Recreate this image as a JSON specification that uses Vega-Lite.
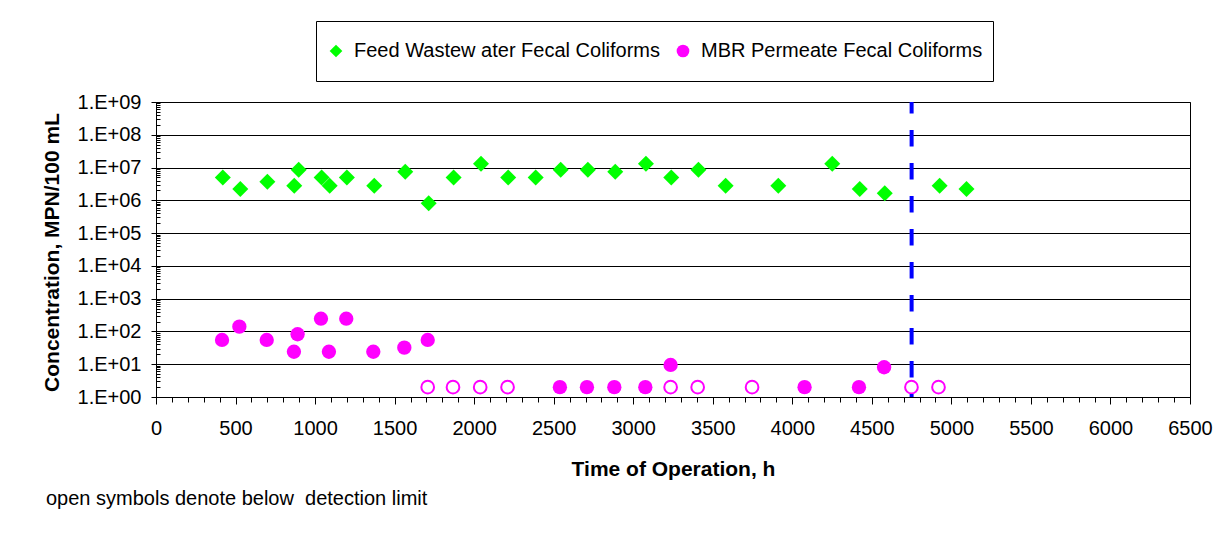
{
  "$schema": "https://vega.github.io/schema/vega-lite/v6.json",
  "width": 1034,
  "height": 295,
  "autosize": {"type": "none"},
  "padding": {"left": 156, "top": 102, "right": 35, "bottom": 149},
  "background": "white",
  "config": {
    "font": "Liberation Sans",
    "view": {"stroke": "#000000", "strokeWidth": 1},
    "axis": {"labelColor": "#000", "titleColor": "#000", "domainColor": "#000", "tickColor": "#000", "labelFontSize": 20, "titleFontSize": 21, "titleFontWeight": "bold"}
  },
  "title": {
    "text": "open symbols denote below\u00a0 detection limit",
    "orient": "bottom",
    "anchor": "start",
    "frame": "group",
    "dx": -110,
    "fontSize": 20,
    "fontWeight": "normal",
    "color": "#000",
    "offset": 10
  },
  "datasets": {
    "feed": [
      {"t": 420, "c": 5000000}, {"t": 530, "c": 2200000}, {"t": 700, "c": 3700000},
      {"t": 869, "c": 2800000}, {"t": 897, "c": 8500000}, {"t": 1041, "c": 5000000},
      {"t": 1092, "c": 2800000}, {"t": 1200, "c": 5000000}, {"t": 1372, "c": 2800000},
      {"t": 1567, "c": 7400000}, {"t": 1714, "c": 820000}, {"t": 1871, "c": 5000000},
      {"t": 2043, "c": 13000000}, {"t": 2214, "c": 5000000}, {"t": 2387, "c": 5000000},
      {"t": 2544, "c": 8500000}, {"t": 2715, "c": 8500000}, {"t": 2887, "c": 7400000},
      {"t": 3080, "c": 13000000}, {"t": 3239, "c": 5000000}, {"t": 3410, "c": 8500000},
      {"t": 3581, "c": 2800000}, {"t": 3912, "c": 2800000}, {"t": 4251, "c": 13000000},
      {"t": 4424, "c": 2200000}, {"t": 4581, "c": 1650000}, {"t": 4926, "c": 2800000},
      {"t": 5095, "c": 2200000}
    ],
    "permeate": [
      {"t": 415, "c": 55, "bdl": false}, {"t": 524, "c": 140, "bdl": false},
      {"t": 696, "c": 55, "bdl": false}, {"t": 867, "c": 24, "bdl": false},
      {"t": 890, "c": 82, "bdl": false}, {"t": 1037, "c": 245, "bdl": false},
      {"t": 1087, "c": 24, "bdl": false}, {"t": 1196, "c": 245, "bdl": false},
      {"t": 1366, "c": 24, "bdl": false}, {"t": 1561, "c": 32, "bdl": false},
      {"t": 1708, "c": 55, "bdl": false}, {"t": 2539, "c": 2, "bdl": false},
      {"t": 2709, "c": 2, "bdl": false}, {"t": 2881, "c": 2, "bdl": false},
      {"t": 3076, "c": 2, "bdl": false}, {"t": 3235, "c": 9.5, "bdl": false},
      {"t": 4077, "c": 2, "bdl": false}, {"t": 4419, "c": 2, "bdl": false},
      {"t": 4577, "c": 8.1, "bdl": false},
      {"t": 1708, "c": 2, "bdl": true}, {"t": 1867, "c": 2, "bdl": true},
      {"t": 2038, "c": 2, "bdl": true}, {"t": 2210, "c": 2, "bdl": true},
      {"t": 3235, "c": 2, "bdl": true}, {"t": 3405, "c": 2, "bdl": true},
      {"t": 3747, "c": 2, "bdl": true}, {"t": 4749, "c": 2, "bdl": true},
      {"t": 4919, "c": 2, "bdl": true}
    ],
    "marker": [{"t": 4750}]
  },
  "layer": [
    {
      "data": {"name": "feed"},
      "mark": {"type": "point", "filled": true, "opacity": 1, "size": 256, "strokeWidth": 0},
      "encoding": {
        "x": {
          "field": "t", "type": "quantitative",
          "scale": {"domain": [0, 6500], "nice": false, "zero": false},
          "axis": {
            "orient": "bottom",
            "values": [0, 500, 1000, 1500, 2000, 2500, 3000, 3500, 4000, 4500, 5000, 5500, 6000, 6500],
            "format": "d",
            "tickSize": 7, "labelPadding": 14, "labelFlush": false, "labelOverlap": false,
            "grid": false,
            "title": "Time of Operation, h",
            "titleY": 78, "titleBaseline": "alphabetic"
          }
        },
        "y": {
          "field": "c", "type": "quantitative",
          "scale": {"type": "log", "domain": [1, 1000000000], "nice": false},
          "axis": {
            "orient": "left",
            "values": [1, 10, 100, 1000, 10000, 100000, 1000000, 10000000, 100000000, 1000000000],
            "labelExpr": "'1.E+0' + round(log(datum.value) / LN10)",
            "tickSize": 5, "labelPadding": 10, "labelOverlap": false, "labelFontSize": 20,
            "grid": true, "gridColor": "#000", "gridOpacity": 1, "gridWidth": 1,
            "title": "Concentration, MPN/100 mL",
            "titleX": -98, "titleY": 150, "titleBaseline": "alphabetic", "titleAngle": -90, "titleAlign": "center"
          }
        },
        "color": {
          "datum": "Feed Wastew ater Fecal Coliforms", "type": "nominal",
          "scale": {"domain": ["Feed Wastew ater Fecal Coliforms", "MBR Permeate Fecal Coliforms"], "range": ["#00FF00", "#FF00FF"]},
          "legend": {
            "title": null, "orient": "none", "legendX": 160, "legendY": -81, "direction": "horizontal",
            "strokeColor": "#000", "fillColor": "#fff", "padding": 10, "symbolSize": 161,
            "labelFontSize": 20, "labelColor": "#000", "columnPadding": 12, "labelOffset": 8,
            "labelLimit": 500, "clipHeight": 40, "symbolStrokeWidth": 0
          }
        },
        "shape": {
          "datum": "Feed Wastew ater Fecal Coliforms", "type": "nominal",
          "scale": {"domain": ["Feed Wastew ater Fecal Coliforms", "MBR Permeate Fecal Coliforms"], "range": ["diamond", "circle"]}
        }
      }
    },
    {
      "data": {"name": "permeate"},
      "transform": [{"filter": "!datum.bdl"}],
      "mark": {"type": "point", "filled": true, "opacity": 1, "size": 205, "strokeWidth": 0},
      "encoding": {
        "x": {
          "field": "t", "type": "quantitative",
          "axis": {
            "orient": "bottom",
            "values": [0,100,200,300,400,500,600,700,800,900,1000,1100,1200,1300,1400,1500,1600,1700,1800,1900,2000,2100,2200,2300,2400,2500,2600,2700,2800,2900,3000,3100,3200,3300,3400,3500,3600,3700,3800,3900,4000,4100,4200,4300,4400,4500,4600,4700,4800,4900,5000,5100,5200,5300,5400,5500,5600,5700,5800,5900,6000,6100,6200,6300,6400,6500],
            "tickSize": 5, "labels": false, "domain": false, "grid": false, "title": null
          }
        },
        "y": {
          "field": "c", "type": "quantitative",
          "axis": {
            "orient": "left",
            "values": [2,3,4,5,6,7,8,9,20,30,40,50,60,70,80,90,200,300,400,500,600,700,800,900,2000,3000,4000,5000,6000,7000,8000,9000,20000,30000,40000,50000,60000,70000,80000,90000,200000,300000,400000,500000,600000,700000,800000,900000,2000000,3000000,4000000,5000000,6000000,7000000,8000000,9000000,20000000,30000000,40000000,50000000,60000000,70000000,80000000,90000000,200000000,300000000,400000000,500000000,600000000,700000000,800000000,900000000],
            "tickSize": -4, "labels": false, "domain": false, "grid": false, "title": null
          }
        },
        "color": {"datum": "MBR Permeate Fecal Coliforms", "type": "nominal"},
        "shape": {"datum": "MBR Permeate Fecal Coliforms", "type": "nominal"}
      }
    },
    {
      "data": {"name": "permeate"},
      "transform": [{"filter": "datum.bdl"}],
      "mark": {"type": "point", "filled": false, "shape": "circle", "opacity": 1, "size": 161, "strokeWidth": 2, "color": "#FF00FF"},
      "encoding": {
        "x": {"field": "t", "type": "quantitative", "axis": null},
        "y": {"field": "c", "type": "quantitative", "axis": null}
      }
    },
    {
      "data": {"name": "marker"},
      "mark": {"type": "rule", "color": "#0000FF", "strokeWidth": 4, "strokeDash": [16.5, 16.5], "strokeDashOffset": 5},
      "encoding": {
        "x": {"field": "t", "type": "quantitative", "axis": null}
      }
    }
  ],
  "resolve": {"axis": {"x": "independent", "y": "independent"}}
}
